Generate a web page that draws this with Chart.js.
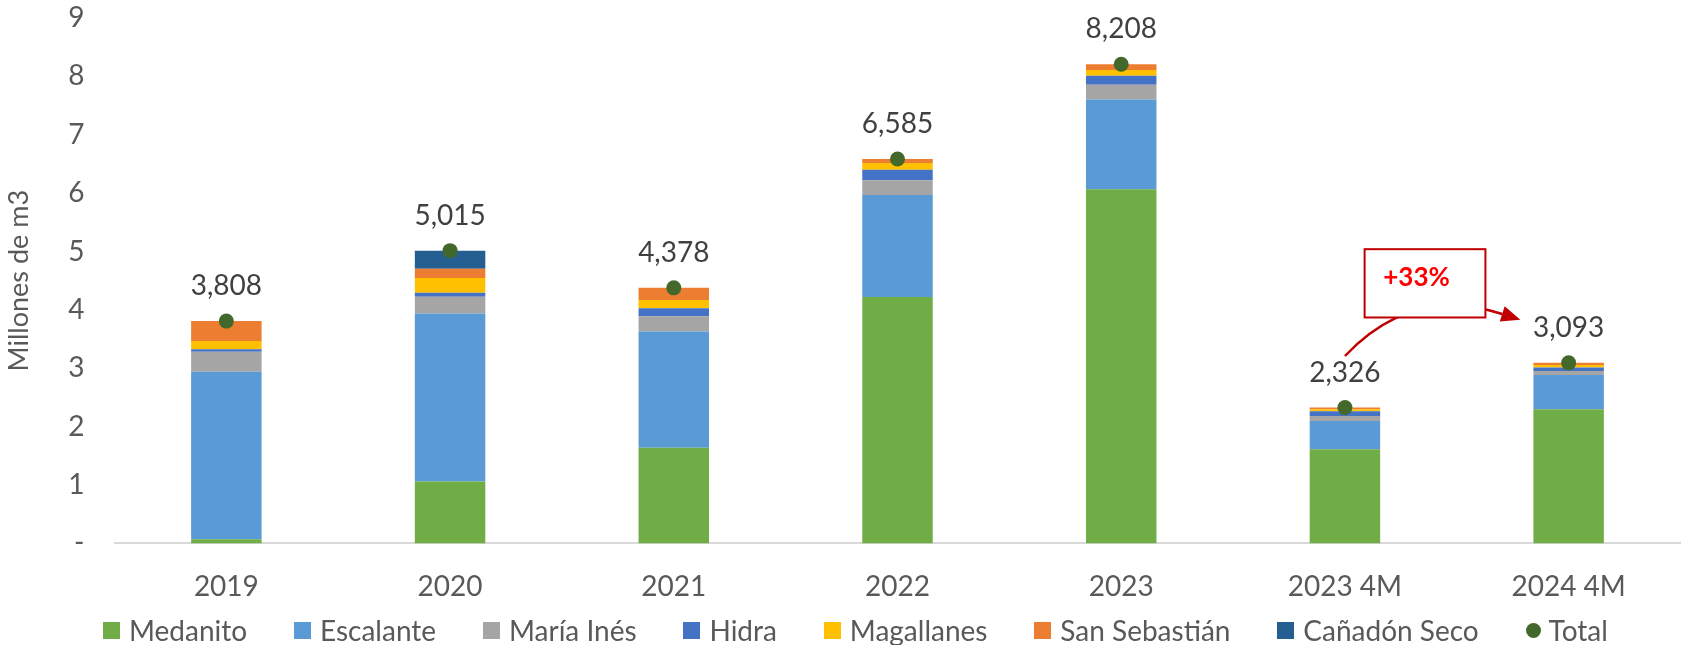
<!DOCTYPE html>
<html>
<head>
<meta charset="utf-8">
<script src="https://cdn.jsdelivr.net/npm/chart.js@4.4.1/dist/chart.umd.min.js"></script>
<style>
  html, body { margin: 0; padding: 0; background: #fff; }
  #wrap { position: relative; width: 1688px; height: 645px; }
  #legend {
    position: absolute; left: 103px; width: 1505px; top: 613px; height: 34px;
    display: flex; justify-content: space-between; align-items: center;
    font: 28px Lato; color: #595959;
  }
  .item { display: flex; align-items: center; white-space: nowrap; }
  .box { width: 17px; height: 17px; margin-right: 9px; }
  .dot { width: 15px; height: 15px; border-radius: 50%; margin-right: 8px; }
</style>
</head>
<body>
<div id="wrap">
  <canvas id="chart" width="1688" height="645"></canvas>
  <div id="legend"></div>
</div>
<script>
"use strict";

const categories = ['2019', '2020', '2021', '2022', '2023', '2023 4M', '2024 4M'];

// millones de m3 por yacimiento
const medanito     = [0.070, 1.060, 1.640, 4.220, 6.065, 1.613, 2.300];
const escalante    = [2.870, 2.880, 1.990, 1.750, 1.540, 0.485, 0.585];
const mariaInes    = [0.345, 0.285, 0.260, 0.250, 0.250, 0.085, 0.070];
const hidra        = [0.040, 0.070, 0.140, 0.180, 0.155, 0.080, 0.060];
const magallanes   = [0.140, 0.250, 0.140, 0.115, 0.100, 0.035, 0.040];
const sanSebastian = [0.343, 0.160, 0.208, 0.070, 0.098, 0.028, 0.038];
const canadonSeco  = [0, 0.310, 0, 0, 0, 0, 0];
const total        = [3.808, 5.015, 4.378, 6.585, 8.208, 2.326, 3.093];

const yTicks = [0, 1, 2, 3, 4, 5, 6, 7, 8, 9];

Chart.defaults.font.family = 'Lato';
Chart.defaults.color = '#595959';

function bar(label, data, color) {
  return {
    type: 'bar', label, data, backgroundColor: color,
    barPercentage: 0.315, categoryPercentage: 1, order: 1
  };
}

function fmt(v) {
  return Math.round(v * 1000).toLocaleString('en-US');
}

const totalLabels = {
  id: 'totalLabels',
  afterDatasetsDraw(chart) {
    const meta = chart.getDatasetMeta(chart.data.datasets.length - 1);
    const ctx = chart.ctx;
    ctx.save();
    ctx.font = '28px Lato';
    ctx.fillStyle = '#404040';
    ctx.textAlign = 'center';
    ctx.textBaseline = 'middle';
    meta.data.forEach((pt, i) => ctx.fillText(fmt(total[i]), pt.x, pt.y - 35));
    ctx.restore();
  }
};

// flecha curva + recuadro con la variacion 2023 4M -> 2024 4M
const growthNote = {
  id: 'growthNote',
  afterDraw(chart) {
    const { x, y } = chart.scales;
    const ctx = chart.ctx;
    const p0 = { x: x.getPixelForValue(5), y: y.getPixelForValue(3.21) };
    const c  = { x: x.getPixelForValue(5.30), y: y.getPixelForValue(4.43) };
    const p2 = { x: x.getPixelForValue(5.784), y: y.getPixelForValue(3.83) };

    ctx.save();
    ctx.strokeStyle = '#C00000';
    ctx.fillStyle = '#C00000';
    ctx.lineWidth = 2.5;
    const ang = Math.atan2(p2.y - c.y, p2.x - c.x);
    const len = 19, half = 8;
    const base = { x: p2.x - len * Math.cos(ang), y: p2.y - len * Math.sin(ang) };
    ctx.beginPath();
    ctx.moveTo(p0.x, p0.y);
    ctx.quadraticCurveTo(c.x, c.y, base.x, base.y);
    ctx.stroke();
    ctx.beginPath();
    ctx.moveTo(p2.x, p2.y);
    ctx.lineTo(base.x + half * Math.sin(ang), base.y - half * Math.cos(ang));
    ctx.lineTo(base.x - half * Math.sin(ang), base.y + half * Math.cos(ang));
    ctx.closePath();
    ctx.fill();

    const bx0 = x.getPixelForValue(5.088), bx1 = x.getPixelForValue(5.628);
    const by0 = y.getPixelForValue(5.04), by1 = y.getPixelForValue(3.87);
    ctx.fillStyle = '#fff';
    ctx.fillRect(bx0, by0, bx1 - bx0, by1 - by0);
    ctx.lineWidth = 2;
    ctx.strokeRect(bx0, by0, bx1 - bx0, by1 - by0);

    const pct = Math.round((total[6] / total[5] - 1) * 100);
    ctx.fillStyle = '#FF0000';
    ctx.font = 'bold 26px Lato';
    ctx.textAlign = 'center';
    ctx.textBaseline = 'middle';
    ctx.fillText('+' + pct + '%', bx0 + 0.43 * (bx1 - bx0), by0 + 0.41 * (by1 - by0));
    ctx.restore();
  }
};

const chart = new Chart(document.getElementById('chart'), {
  type: 'bar',
  data: {
    labels: categories,
    datasets: [
      bar('Medanito', medanito, '#70AD47'),
      bar('Escalante', escalante, '#5B9BD5'),
      bar('María Inés', mariaInes, '#A5A5A5'),
      bar('Hidra', hidra, '#4472C4'),
      bar('Magallanes', magallanes, '#FFC000'),
      bar('San Sebastián', sanSebastian, '#ED7D31'),
      bar('Cañadón Seco', canadonSeco, '#255E91'),
      {
        type: 'line', label: 'Total', data: total, stack: 'total', order: 0,
        showLine: false, pointRadius: 7.5, pointBorderWidth: 0,
        backgroundColor: '#43682B', pointBackgroundColor: '#43682B'
      }
    ]
  },
  options: {
    responsive: false,
    animation: false,
    layout: { padding: { top: 18, right: 0, bottom: 14, left: 0 } },
    plugins: { legend: { display: false }, tooltip: { enabled: false } },
    scales: {
      x: {
        stacked: true,
        grid: { display: false, drawTicks: false },
        border: { color: '#D9D9D9', width: 2 },
        ticks: { padding: 27, color: '#595959', font: { size: 28 } }
      },
      y: {
        stacked: true,
        min: yTicks[0],
        max: yTicks[yTicks.length - 1],
        grid: { display: false, drawTicks: false },
        border: { display: false },
        afterBuildTicks(scale) { scale.ticks = yTicks.map(v => ({ value: v })); },
        ticks: { padding: 30, color: '#595959', font: { size: 28 }, callback: v => v === 0 ? '-' : v },
        title: {
          display: true, text: 'Millones de m3', color: '#595959',
          font: { size: 27 }, padding: { top: 3, bottom: 0 }
        },
        afterFit(scale) {
          scale.width = 114.5;
          scale.paddingTop = 0;
          scale.paddingBottom = 0;
        }
      }
    }
  },
  plugins: [totalLabels, growthNote]
});

// leyenda en HTML, armada a partir de los datasets
const legend = document.getElementById('legend');
chart.data.datasets.forEach(ds => {
  const item = document.createElement('div');
  item.className = 'item';
  const mark = document.createElement('span');
  mark.className = ds.type === 'line' ? 'dot' : 'box';
  mark.style.background = ds.backgroundColor;
  item.appendChild(mark);
  item.appendChild(document.createTextNode(ds.label));
  legend.appendChild(item);
});
</script>
</body>
</html>
